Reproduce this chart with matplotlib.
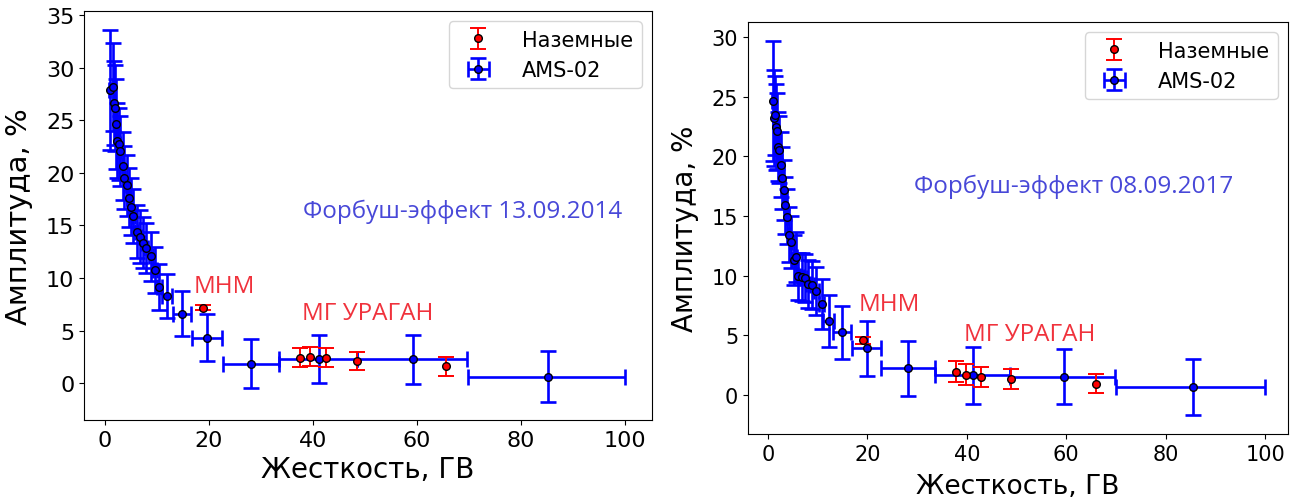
import matplotlib
matplotlib.use("Agg")
import matplotlib.pyplot as plt

# --- 13.09.2014 event (left panel) ---
ams14_r = [0.96, 1.6, 1.73, 1.98, 2.17, 2.37, 2.75, 2.94, 3.4, 3.72, 4.17, 4.55, 4.94, 5.5,
           6.1, 6.8, 7.3, 7.95, 8.8, 9.6, 10.45, 12.0, 14.8, 19.7, 28.1, 41.1, 59.2, 85.1]
ams14_a = [27.9, 28.2, 26.65, 26.2, 24.66, 23.08, 22.76, 22.1, 20.67, 19.53, 18.83, 17.63, 16.78, 15.89,
           14.4, 13.93, 13.36, 12.85, 12.06, 10.76, 9.15, 8.26, 6.62, 4.34, 1.87, 2.28, 2.28, 0.63]
ams14_da = [5.7, 4.2, 4.0, 4.1, 4.3, 3.6, 3.4, 3.3, 3.2, 3.0, 2.9, 2.8, 2.7, 2.6,
            2.5, 2.5, 2.4, 2.4, 2.3, 2.2, 2.2, 2.1, 2.15, 2.2, 2.35, 2.3, 2.33, 2.4]
ams14_dr_lo = [0.08, 0.09, 0.09, 0.1, 0.1, 0.11, 0.12, 0.13, 0.15, 0.17, 0.18, 0.2, 0.22, 0.24,
               0.27, 0.3, 0.33, 0.36, 0.39, 0.42, 0.45, 1.0, 1.7, 3.0, 5.4, 7.6, 10.7, 15.2]
ams14_dr_hi = [0.08, 0.09, 0.09, 0.1, 0.1, 0.11, 0.12, 0.13, 0.15, 0.17, 0.18, 0.2, 0.22, 0.24,
               0.27, 0.3, 0.33, 0.36, 0.39, 0.42, 0.45, 1.0, 1.7, 2.9, 5.4, 7.4, 10.5, 14.9]
gnd14_r = [18.9, 37.5, 39.4, 42.5, 48.5, 65.6]
gnd14_a = [7.19, 2.44, 2.53, 2.44, 2.15, 1.59]
gnd14_da = [0.27, 0.87, 0.87, 0.87, 0.86, 0.9]

# --- 08.09.2017 event (right panel) ---
ams17_r = [1.0, 1.2, 1.48, 1.6, 1.8, 2.0, 2.2, 2.7, 2.9, 3.2, 3.5, 3.8, 4.2, 4.7, 5.2,
           5.6, 6.1, 6.9, 7.4, 8.0, 8.9, 9.7, 10.8, 12.2, 15.0, 19.9, 28.2, 41.3, 59.5, 85.5]
ams17_a = [24.65, 23.2, 23.45, 22.45, 22.1, 20.8, 20.55, 19.3, 18.2, 17.2, 15.9, 14.96, 13.45, 12.84, 11.3,
           11.56, 9.94, 9.9, 9.78, 9.33, 9.22, 8.72, 7.66, 6.2, 5.26, 3.93, 2.26, 1.67, 1.56, 0.67]
ams17_da = [5.0, 4.0, 3.3, 3.6, 3.2, 2.9, 2.8, 2.7, 2.6, 2.5, 2.4, 2.3, 2.3, 2.2, 2.1,
            2.1, 2.0, 2.0, 2.0, 2.0, 2.0, 2.0, 2.1, 2.15, 2.2, 2.3, 2.3, 2.38, 2.34, 2.32]
ams17_dr_lo = [0.08, 0.09, 0.09, 0.1, 0.1, 0.11, 0.12, 0.13, 0.15, 0.17, 0.18, 0.2, 0.22, 0.24, 0.27,
               0.3, 0.33, 0.36, 0.39, 0.42, 0.45, 0.5, 0.55, 1.1, 1.9, 3.0, 5.4, 7.6, 10.9, 15.5]
ams17_dr_hi = [0.08, 0.09, 0.09, 0.1, 0.1, 0.11, 0.12, 0.13, 0.15, 0.17, 0.18, 0.2, 0.22, 0.24, 0.27,
               0.3, 0.33, 0.36, 0.39, 0.42, 0.45, 0.5, 0.55, 1.1, 1.7, 2.8, 5.4, 7.4, 10.3, 14.5]
gnd17_r = [19.2, 37.8, 39.8, 42.9, 48.8, 66.0]
gnd17_a = [4.6, 1.98, 1.73, 1.56, 1.39, 0.97]
gnd17_da = [0.3, 0.84, 0.84, 0.84, 0.84, 0.8]

ann_font = ["Open Sans", "DejaVu Sans"]
blue_txt = "#4848d8"
red_txt = "#f0323c"


def panel(ax, r, a, da, dr_lo, dr_hi, gr, ga, gda, title, xy_title, xy_mnm, xy_mg,
          tick_fs, label_fs, cap, xpad):
    h_ams = ax.errorbar(r, a, yerr=da, xerr=[dr_lo, dr_hi], fmt="o", color="blue",
                        ecolor="blue", elinewidth=1.9, capsize=cap, capthick=1.9,
                        markersize=5.5, markeredgecolor="black", markerfacecolor="blue",
                        label="AMS-02")
    h_gnd = ax.errorbar(gr, ga, yerr=gda, fmt="o", color="red", ecolor="red",
                        elinewidth=1.4, capsize=cap, capthick=1.4, markersize=5.5,
                        markeredgecolor="black", markerfacecolor="red", label="Наземные")
    ax.legend([h_gnd, h_ams], ["Наземные", "AMS-02"], loc="upper right", fontsize=15,
              handletextpad=1.1)
    ax.text(xy_title[0], xy_title[1], title, color=blue_txt, fontsize=17.5,
            family=ann_font, ha="center", va="center")
    ax.text(xy_mnm[0], xy_mnm[1], "МНМ", color=red_txt, fontsize=17.5,
            family=ann_font, ha="left", va="center")
    ax.text(xy_mg[0], xy_mg[1], "МГ УРАГАН", color=red_txt, fontsize=17.5,
            family=ann_font, ha="left", va="center")
    ax.set_xlabel("Жесткость, ГВ", fontsize=label_fs - 1, labelpad=xpad)
    ax.set_ylabel("Амплитуда, %", fontsize=label_fs, labelpad=9)
    ax.tick_params(labelsize=tick_fs)
    ax.set_xticks([0, 20, 40, 60, 80, 100])


fig = plt.figure(figsize=(12.93, 5.02), dpi=100)
ax1 = fig.add_axes([0.065, 0.1614, 0.4393, 0.8147])
ax2 = fig.add_axes([0.5785, 0.1335, 0.4176, 0.8207])

panel(ax1, ams14_r, ams14_a, ams14_da, ams14_dr_lo, ams14_dr_hi, gnd14_r, gnd14_a, gnd14_da,
      "Форбуш-эффект 13.09.2014", (68.7, 16.4), (17.1, 9.2), (37.9, 6.7), 16, 21, 6, 4)
ax1.set_xlim(-4, 105.2)
ax1.set_ylim(-3.5, 35.4)
ax1.set_yticks([0, 5, 10, 15, 20, 25, 30, 35])

panel(ax2, ams17_r, ams17_a, ams17_da, ams17_dr_lo, ams17_dr_hi, gnd17_r, gnd17_a, gnd17_da,
      "Форбуш-эффект 08.09.2017", (61.4, 17.5), (18.3, 7.6), (39.4, 5.1), 15, 20, 5.5, 7)
ax2.set_xlim(-4, 104.6)
ax2.set_ylim(-3.25, 31.25)
ax2.set_yticks([0, 5, 10, 15, 20, 25, 30])

fig.savefig("out.png", dpi=100)
